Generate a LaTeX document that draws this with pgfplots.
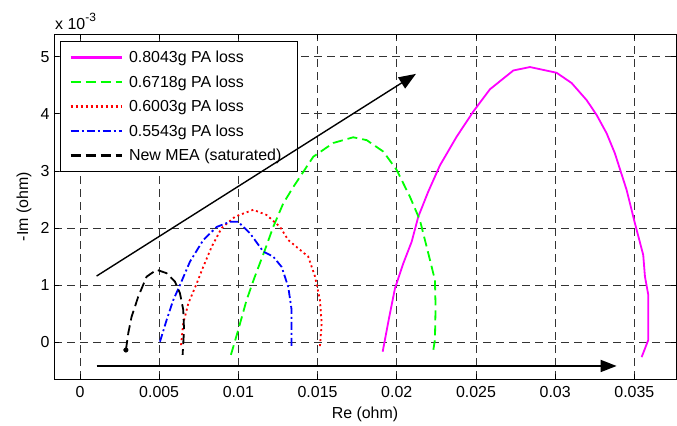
\documentclass[border=0pt]{standalone}
\usepackage{pgfplots}
\pgfplotsset{compat=1.18}
\usepackage{fontspec}
\setmainfont{Liberation Sans}
\usetikzlibrary{arrows.meta}
\definecolor{mag}{RGB}{255,0,255}
\definecolor{grn}{RGB}{0,255,0}
\definecolor{rd}{RGB}{255,0,0}
\definecolor{bl}{RGB}{0,0,255}
\newcommand{\bigfont}{\fontsize{16}{19}\selectfont}
\begin{document}
\begin{tikzpicture}
\path[use as bounding box] (-54bp,-47bp) rectangle (623bp,379bp);
\begin{axis}[
  at={(0,0)}, anchor=south west,
  scale only axis, width=622bp, height=344.5bp,
  xmin=-0.00164, xmax=0.03763, ymin=-0.643, ymax=5.39,
  scaled x ticks=false,
  xtick={0,0.005,0.01,0.015,0.02,0.025,0.03,0.035},
  xticklabels={0,0.005,0.01,0.015,0.02,0.025,0.03,0.035},
  ytick={0,1,2,3,4,5},
  yticklabels={0,1,2,3,4,5},
  tick align=inside, major tick length=5bp,
  xtick pos=both, ytick pos=both,
  tick style={black, line width=0.8bp},
  axis line style={black, line width=0.9bp},
  grid=major,
  major grid style={black!80, line width=0.8bp, dash pattern=on 8bp off 5bp},
  /pgf/number format/assume math mode=true,
  tick label style={font=\bigfont},
  xticklabel style={yshift=-4bp},
  yticklabel style={xshift=-1bp},
  xlabel={Re (ohm)}, ylabel={-Im (ohm)},
  label style={font=\bigfont},
  xlabel style={at={(axis description cs:0.5,-0.1016)}, anchor=center},
  ylabel style={at={(axis description cs:-0.0482,0.5)}, anchor=center},
  legend style={at={(axis description cs:0.0096,0.981)}, anchor=north west,
    font=\bigfont, draw=black, line width=0.9bp, fill=white,
    row sep=7.5bp, inner xsep=9bp, inner ysep=7.5bp,
    cells={anchor=west},
    /tikz/every odd column/.append style={column sep=4bp}},
  legend cell align=left,
  legend image code/.code={\draw[#1, line width=2.6bp] (0bp,0bp) -- (51bp,0bp);},
]
\addplot[mag, line width=1.8bp, solid] coordinates {
(0.01911,-0.165) (0.01953,0.45) (0.01989,0.946) (0.02041,1.38) (0.02094,1.76)
(0.02136,2.20) (0.02199,2.64) (0.02273,3.10) (0.02378,3.60) (0.02483,4.04)
(0.02588,4.43) (0.02736,4.76) (0.02841,4.82) (0.03009,4.72) (0.03104,4.54)
(0.03199,4.24) (0.03262,3.98) (0.03325,3.66) (0.03377,3.31) (0.03451,2.67)
(0.03504,2.08) (0.03556,1.53) (0.03567,1.15) (0.03588,0.83) (0.03588,0.04)
(0.03567,-0.11) (0.03546,-0.26)};
\addlegendentry{0.8043g PA loss}
\addplot[grn, line width=1.8bp, dash pattern=on 10bp off 5bp] coordinates {
(0.00953,-0.22) (0.00999,0.215) (0.01052,0.74) (0.01100,1.12) (0.01168,1.62)
(0.0122,2.02) (0.01283,2.43) (0.01347,2.72) (0.01473,3.25) (0.01599,3.49)
(0.01725,3.59) (0.0181,3.54) (0.01915,3.34) (0.01999,3.02) (0.02083,2.55)
(0.02146,2.14) (0.02199,1.56) (0.02241,1.09) (0.02245,0.62) (0.02241,0.04)
(0.02231,-0.13)};
\addlegendentry{0.6718g PA loss}
\addplot[rd, line width=1.8bp, dash pattern=on 2bp off 3bp] coordinates {
(0.00638,-0.05) (0.00652,0.33) (0.00684,0.68) (0.00737,1.03) (0.00778,1.32)
(0.00831,1.67) (0.00894,2.00) (0.00979,2.20) (0.01094,2.32) (0.01178,2.23)
(0.01263,2.02) (0.01315,1.79) (0.01389,1.62) (0.01441,1.50) (0.01484,1.15)
(0.01515,0.74) (0.01526,0.33) (0.01515,-0.08)};
\addlegendentry{0.6003g PA loss}
\addplot[bl, line width=1.8bp, dash pattern=on 8bp off 3bp on 2bp off 3bp] coordinates {
(0.00505,0.01) (0.00547,0.39) (0.00589,0.74) (0.00631,1.00) (0.00694,1.41)
(0.00778,1.79) (0.00863,2.02) (0.00947,2.11) (0.00999,2.11) (0.01073,1.91)
(0.01157,1.59) (0.0122,1.50) (0.01273,1.32) (0.01315,0.97) (0.01336,0.57)
(0.01336,-0.11)};
\addlegendentry{0.5543g PA loss}
\addplot[black, line width=1.8bp, dash pattern=on 10bp off 5bp] coordinates {
(0.0029,-0.135) (0.00305,0.16) (0.00326,0.45) (0.00368,0.80) (0.00421,1.15)
(0.00484,1.27) (0.00547,1.21) (0.006,1.06) (0.00631,0.86) (0.00652,0.57)
(0.00657,0.22) (0.00648,-0.22)};
\addlegendentry{New MEA (saturated)\hspace*{5bp}}
\addplot[black, only marks, mark=*, mark size=2.3bp, forget plot] coordinates {(0.0029,-0.135)};
\end{axis}
\begin{axis}[
  at={(0,0)}, anchor=south west,
  scale only axis, width=622bp, height=344.5bp,
  xmin=-0.00164, xmax=0.03763, ymin=-0.643, ymax=5.39,
  hide axis, clip=false,
]
\addplot[black, line width=1.4bp, -{Triangle[length=17bp,width=13bp]}] coordinates {(0.00105,1.16) (0.02121,4.70)};
\addplot[black, line width=1.8bp, -{Triangle[length=16bp,width=12bp]}] coordinates {(0.00105,-0.415) (0.03388,-0.415)};
\end{axis}
\node[anchor=west, inner sep=0pt, font=\bigfont] at (1bp,357.3bp) {x 10\raisebox{8bp}{\fontsize{12}{14}\selectfont -3}};
\end{tikzpicture}
\end{document}
